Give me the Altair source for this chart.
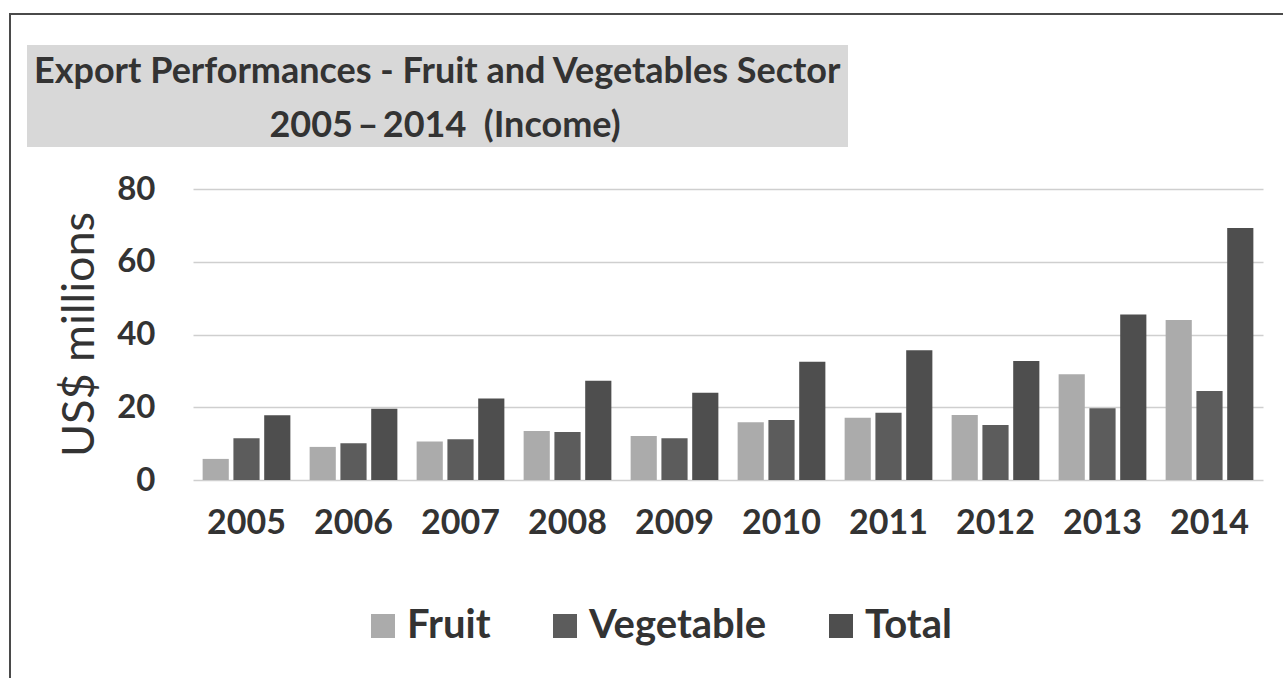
import altair as alt
import pandas as pd

years = [str(y) for y in range(2005, 2015)]
fruit = [5.8, 9.1, 10.6, 13.5, 12.1, 15.9, 17.1, 17.9, 29.1, 44.0]
vegetable = [11.5, 10.1, 11.2, 13.2, 11.5, 16.5, 18.5, 15.1, 19.7, 24.5]
total = [17.8, 19.6, 22.4, 27.3, 24.0, 32.5, 35.7, 32.7, 45.5, 69.3]
series = ["Fruit", "Vegetable", "Total"]
colors = ["#ababab", "#5c5c5c", "#4e4e4e"]
y_ticks = [0, 20, 40, 60, 80]
title_line1 = "Export Performances - Fruit and Vegetables Sector"
title_line2 = "2005\u2009\u2013\u20092014\u00a0 (Income)"

rows = []
for i, yr in enumerate(years):
    for s, vals in zip(series, [fruit, vegetable, total]):
        rows.append({"year": yr, "series": s, "value": vals[i]})
df = pd.DataFrame(rows)
one = pd.DataFrame({"k": [0]})

FONT = "Lato"
TXT = "#333333"

frame = alt.Chart(one).mark_rect(fillOpacity=0, stroke="#4a4a4a", strokeWidth=2).encode(
    x=alt.value(-183), x2=alt.value(1110), y=alt.value(-175), y2=alt.value(510)
)
band = alt.Chart(one).mark_rect(color="#d8d8d8").encode(
    x=alt.value(-166), x2=alt.value(655), y=alt.value(-144), y2=alt.value(-42)
)
t1 = alt.Chart(one).mark_text(font=FONT, fontSize=36, fontWeight="bold", color=TXT,
                              align="left", baseline="alphabetic").encode(
    x=alt.value(-159), y=alt.value(-106), text=alt.value(title_line1)
)
t2 = alt.Chart(one).mark_text(font=FONT, fontSize=36, fontWeight="bold", color=TXT,
                              align="center", baseline="alphabetic").encode(
    x=alt.value(252), y=alt.value(-52), text=alt.value(title_line2)
)

bars = alt.Chart(df).mark_bar().encode(
    x=alt.X("year:N", sort=years,
            scale=alt.Scale(paddingInner=0.18, paddingOuter=0.09),
            axis=alt.Axis(title=None, labelAngle=0, labelFontSize=34, labelFontWeight="bold",
                          labelFont=FONT, labelColor=TXT, labelPadding=26, ticks=False,
                          domain=False, grid=False)),
    xOffset=alt.XOffset("series:N", sort=series, scale=alt.Scale(paddingInner=0.15)),
    y=alt.Y("value:Q", scale=alt.Scale(domain=[0, 80]),
            axis=alt.Axis(values=y_ticks, title="US$ millions", titleFont=FONT, titleFontSize=45,
                          titleFontWeight="normal", titleColor=TXT, titleAngle=270,
                          titleAlign="center", titleBaseline="middle", titleX=-114, titleY=145,
                          labelFont=FONT, labelFontSize=33, labelFontWeight="bold", labelColor=TXT,
                          labelPadding=38, ticks=False, domain=False, grid=True,
                          gridColor="#cfcfcf", gridWidth=1.5)),
    color=alt.Color("series:N", sort=series, scale=alt.Scale(domain=series, range=colors),
                    legend=alt.Legend(title=None, orient="none", legendX=170, legendY=417,
                                      direction="horizontal", symbolType="square", symbolSize=576,
                                      symbolStrokeWidth=0, labelFont=FONT, labelFontSize=40,
                                      labelFontWeight="bold", labelColor=TXT, labelOffset=4,
                                      columnPadding=54, labelLimit=400)),
)

chart = alt.layer(frame, band, t1, t2, bars).properties(
    width=1070, height=291,
    padding={"left": 193, "top": 189, "right": 20, "bottom": 198},
    autosize=alt.AutoSizeParams(type="none"),
    background="white",
).configure_view(stroke=None)

chart.save("out.html", embed_options={"renderer": "svg", "actions": False})
